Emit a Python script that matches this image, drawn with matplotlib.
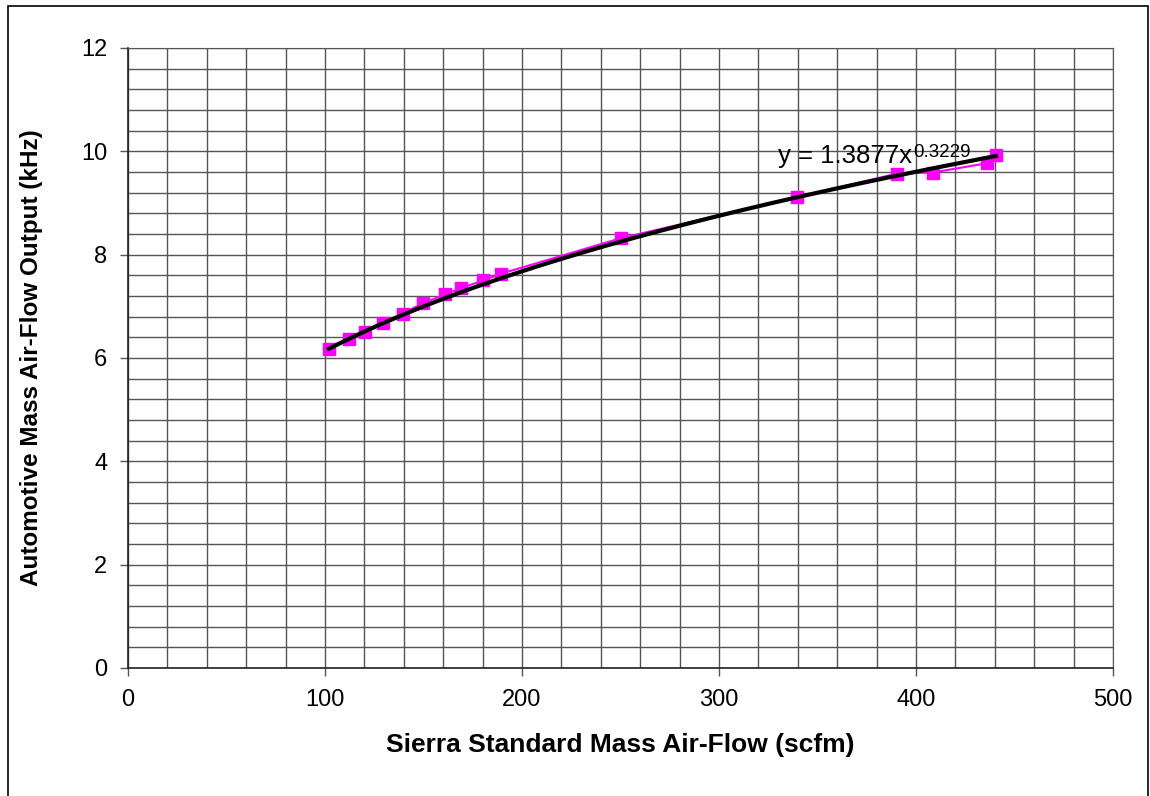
import matplotlib.pyplot as plt
from matplotlib.patches import Rectangle
import numpy as np

plt.rcParams['font.family'] = ['Liberation Sans', 'DejaVu Sans']

# measured points
flow_scfm = [102, 112, 120.3, 129.4, 139.6, 149.7, 160.9, 169, 180.2, 189.3,
             250.3, 339.6, 390.4, 408.6, 436, 440.6]
output_khz = [6.17, 6.36, 6.50, 6.67, 6.86, 7.06, 7.23, 7.35, 7.50, 7.63,
              8.32, 9.11, 9.57, 9.59, 9.77, 9.92]

# power trendline shown on the chart
coef = 1.3877
expo = 0.3229

x_ticks = [0, 100, 200, 300, 400, 500]
y_ticks = [0, 2, 4, 6, 8, 10, 12]

fig = plt.figure(figsize=(11.5, 7.96), dpi=100)
ax = fig.add_axes([128 / 1150, 1 - 668 / 796, (1113 - 128) / 1150, (668 - 48) / 796])

# outer chart frame
fig.patches.append(Rectangle((8 / 1150, -0.05), 1140 / 1150, 1.05 - 6 / 796,
                             transform=fig.transFigure, fill=False,
                             edgecolor='black', linewidth=1.2))

ax.plot(flow_scfm, output_khz, '-s', color='#FF00FF', linewidth=1.5,
        markersize=8, zorder=3)

xt = np.linspace(min(flow_scfm), max(flow_scfm), 200)
ax.plot(xt, coef * xt ** expo, color='black', linewidth=3.0, zorder=4)

eq = ax.text(330, 9.77, f'y = {coef}x', fontsize=18.5, zorder=5)
ax.annotate(f'{expo}', xy=(1, 1), xycoords=eq, xytext=(1, -9),
            textcoords='offset points', fontsize=13.5, va='baseline',
            ha='left', zorder=5)

ax.set_xlim(0, 500)
ax.set_ylim(0, 12)
ax.set_xticks(x_ticks)
ax.set_yticks(y_ticks)
ax.set_xticks(np.arange(0, 501, 20), minor=True)
ax.set_yticks(np.arange(0, 12.01, 0.4), minor=True)
ax.grid(True, which='both', color='#555555', linewidth=1.0)
ax.set_axisbelow(True)
ax.tick_params(which='minor', length=0)
ax.tick_params(which='major', direction='out', length=6, width=1,
               labelsize=17, pad=9, color='#555555')

for s in ['top', 'right']:
    ax.spines[s].set_color('#555555')
for s in ['left', 'bottom']:
    ax.spines[s].set_color('#222222')
    ax.spines[s].set_linewidth(1.2)

ax.set_xlabel('Sierra Standard Mass Air-Flow (scfm)', fontsize=19,
              fontweight='bold', labelpad=16)
ax.set_ylabel('Automotive Mass Air-Flow Output (kHz)', fontsize=17.5,
              fontweight='bold', labelpad=27)

fig.savefig('out.png', dpi=100)
